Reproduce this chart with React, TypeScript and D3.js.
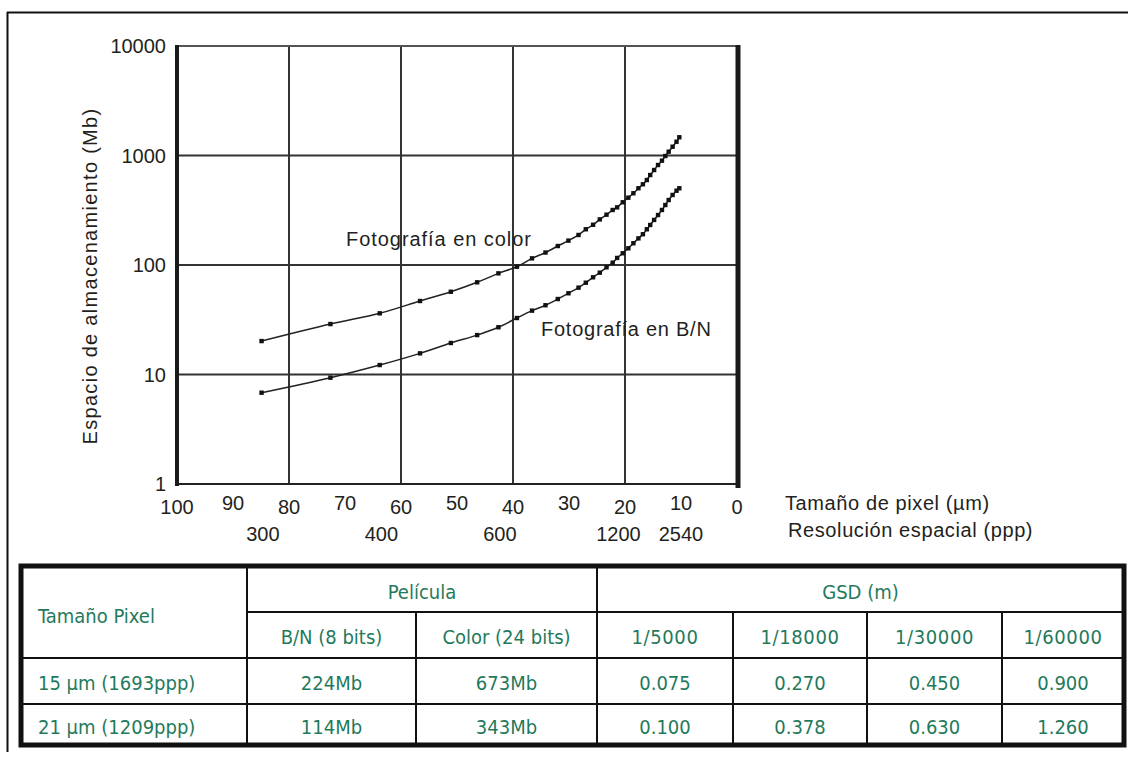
import React from "react";
import * as d3 from "d3";

// pixel size (µm) of each marker
const sizeUm = [84.9, 72.6, 63.8, 56.6, 51.1, 46.4, 42.6, 39.3, 36.6, 34.2, 32.0, 30.1, 28.3, 27.0, 25.7, 24.5, 23.3, 22.2, 21.4, 20.4, 19.4, 18.5, 17.6, 16.8, 16.1, 15.5, 14.8, 14.1, 13.4, 12.8, 12.2, 11.5, 10.8, 10.3];
const colorMb = [20.2, 28.9, 36.2, 46.9, 57.0, 69.5, 83.9, 96.5, 115, 130, 149, 167, 188, 212, 233, 261, 288, 318, 336, 374, 412, 452, 502, 546, 597, 663, 737, 819, 897, 989, 1083, 1203, 1336, 1467];
const bnMb = [6.82, 9.35, 12.2, 15.6, 19.4, 22.9, 27.0, 32.8, 38.3, 42.9, 48.9, 55.2, 62.1, 68.9, 77.2, 85.1, 95.3, 105, 116, 128, 142, 158, 175, 191, 212, 232, 258, 286, 318, 353, 392, 436, 477, 502];

const yTicks = [1, 10, 100, 1000, 10000];
const umTicks = [100, 90, 80, 70, 60, 50, 40, 30, 20, 10, 0];
const pppTicks = [300, 400, 600, 1200, 2540];

// table
const rowLabels = ["15 µm (1693ppp)", "21 µm (1209ppp)"];
const filmBN = ["224Mb", "114Mb"];
const filmColor = ["673Mb", "343Mb"];
const gsdScales = ["1/5000", "1/18000", "1/30000", "1/60000"];
const gsdRow15 = [0.075, 0.27, 0.45, 0.9];
const gsdRow21 = [0.1, 0.378, 0.63, 1.26];

const INK = "#231f20";
const GREEN = "#1f7a5c";
const SANS = "'Liberation Sans', Arial, sans-serif";
const NARROW = "'Liberation Sans Narrow', 'Arial Narrow', 'DejaVu Sans Condensed', sans-serif";

const App = () => {
    const x = d3.scaleLinear().domain([100, 0]).range([177, 737]);
    const y = d3.scaleLog().domain([1, 10000]).range([484, 46]);
    const line = d3
        .line<number>()
        .x((d, i) => x(sizeUm[i]))
        .y(d => y(d))
        .curve(d3.curveCatmullRom);
    const fmt = d3.format(".3f");

    const series = [colorMb, bnMb];

    // table grid
    const cols = [21, 247, 416, 597, 733, 867, 1002, 1124];
    const rows = [566, 612, 658, 704, 745];
    const mid = (a, b) => (a + b) / 2;
    const bodyRows = [
        [rowLabels[0], filmBN[0], filmColor[0], ...gsdRow15.map(fmt)],
        [rowLabels[1], filmBN[1], filmColor[1], ...gsdRow21.map(fmt)],
    ];

    return (
        <svg width={1128} height={758} style={{ position: "absolute", left: 0, top: 0, background: "#fff" }}>
            {/* page frame */}
            <line x1={7} x2={1128} y1={12.5} y2={12.5} stroke="#111" strokeWidth={2} />
            <line x1={7.5} x2={7.5} y1={12} y2={752} stroke="#111" strokeWidth={2} />

            {/* grid */}
            <g stroke="#333" strokeWidth={2}>
                {yTicks.slice(1, -1).map(t => (
                    <line key={t} x1={177} x2={737} y1={y(t)} y2={y(t)} />
                ))}
                {[80, 60, 40, 20].map(t => (
                    <line key={t} x1={x(t)} x2={x(t)} y1={46} y2={484} />
                ))}
            </g>
            <line x1={177} x2={737} y1={46} y2={46} stroke="#555" strokeWidth={2} />
            <line x1={177} x2={737} y1={484} y2={484} stroke="#222" strokeWidth={2} />
            <line x1={177} x2={177} y1={45} y2={486} stroke="#1a1a1a" strokeWidth={4} />
            <line x1={738} x2={738} y1={45} y2={488} stroke="#1a1a1a" strokeWidth={5} />

            {/* curves */}
            {series.map((s, k) => (
                <g key={k}>
                    <path d={line(s)} fill="none" stroke="#222" strokeWidth={1.5} />
                    {s.map((v, i) => (
                        <rect key={i} x={x(sizeUm[i]) - 2.2} y={y(v) - 2.2} width={4.4} height={4.4} fill="#111" />
                    ))}
                </g>
            ))}

            {/* curve labels */}
            <g fontFamily={SANS} fontSize={20} fill={INK}>
                <text x={346} y={246} letterSpacing={0.95}>Fotografía en color</text>
                <text x={541} y={336} letterSpacing={0.75}>Fotografía en B/N</text>
            </g>

            {/* y axis */}
            <g fontFamily={SANS} fontSize={20} fill={INK} textAnchor="end">
                {yTicks.map(t => (
                    <text key={t} x={166} y={y(t) + 7}>{t}</text>
                ))}
            </g>
            <text
                transform="translate(97,276) rotate(-90)"
                textAnchor="middle"
                fontFamily={SANS}
                fontSize={20}
                letterSpacing={1.3}
                fill={INK}
            >
                Espacio de almacenamiento (Mb)
            </text>

            {/* x axis */}
            <g fontFamily={SANS} fontSize={20} fill={INK} textAnchor="middle">
                {umTicks.map((t, i) => (
                    <text key={t} x={x(t)} y={i % 2 ? 510 : 514}>{t}</text>
                ))}
                {pppTicks.map(p => (
                    <text key={p} x={x(25400 / p)} y={541}>{p}</text>
                ))}
            </g>
            <g fontFamily={SANS} fontSize={20} fill={INK} letterSpacing={0.6}>
                <text x={785} y={510}>Tamaño de pixel (µm)</text>
                <text x={788} y={537}>Resolución espacial (ppp)</text>
            </g>

            {/* table */}
            <g stroke="#111" strokeWidth={2}>
                <line x1={cols[1]} x2={cols[7]} y1={rows[1]} y2={rows[1]} />
                <line x1={cols[0]} x2={cols[7]} y1={rows[2]} y2={rows[2]} />
                <line x1={cols[0]} x2={cols[7]} y1={rows[3]} y2={rows[3]} />
                <line x1={cols[1]} x2={cols[1]} y1={rows[0]} y2={rows[4]} />
                <line x1={cols[3]} x2={cols[3]} y1={rows[0]} y2={rows[4]} />
                {[2, 4, 5, 6].map(c => (
                    <line key={c} x1={cols[c]} x2={cols[c]} y1={rows[1]} y2={rows[4]} />
                ))}
            </g>
            <rect x={cols[0]} y={rows[0]} width={cols[7] - cols[0]} height={rows[4] - rows[0]} fill="none" stroke="#111" strokeWidth={5} />

            <g fontFamily={NARROW} fontSize={20} fill={GREEN}>
                <text x={38} y={623}>Tamaño Pixel</text>
                <text x={mid(cols[1], cols[3])} y={599} textAnchor="middle">Película</text>
                <text x={mid(cols[3], cols[7])} y={599} textAnchor="middle">GSD (m)</text>
                <text x={mid(cols[1], cols[2])} y={644} textAnchor="middle">B/N (8 bits)</text>
                <text x={mid(cols[2], cols[3])} y={644} textAnchor="middle">Color (24 bits)</text>
                {gsdScales.map((s, i) => (
                    <text key={s} x={mid(cols[3 + i], cols[4 + i])} y={644} textAnchor="middle" letterSpacing={0.6}>{s}</text>
                ))}
                {bodyRows.map((r, ri) =>
                    r.map((cell, ci) => (
                        <text
                            key={ri + "-" + ci}
                            x={ci === 0 ? 38 : mid(cols[ci], cols[ci + 1])}
                            y={ri === 0 ? 690 : 734}
                            textAnchor={ci === 0 ? "start" : "middle"}
                        >
                            {cell}
                        </text>
                    ))
                )}
            </g>
        </svg>
    );
};

export default App;
